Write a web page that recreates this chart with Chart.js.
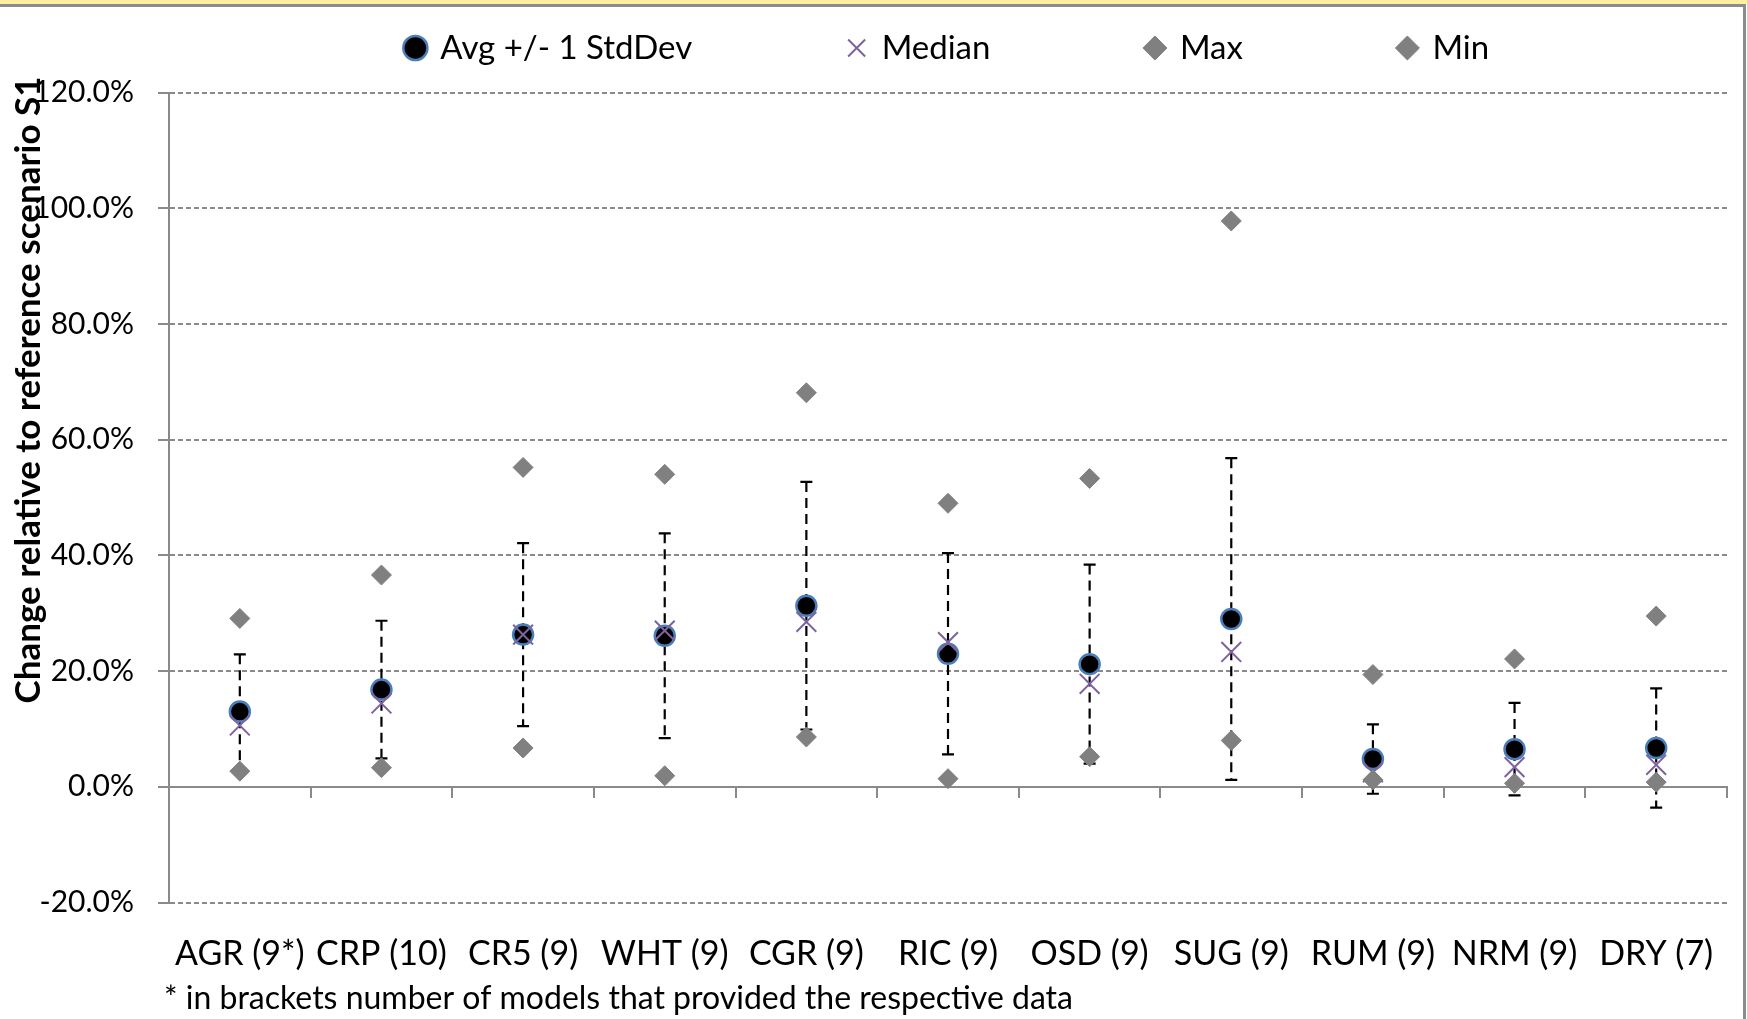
<!DOCTYPE html>
<html>
<head>
<meta charset="utf-8">
<title>Change relative to reference scenario S1</title>
<script src="https://cdn.jsdelivr.net/npm/chart.js@4.4.1/dist/chart.umd.min.js"></script>
<style>
  html, body { margin: 0; padding: 0; background: #fff; }
  #wrap { position: relative; width: 1747px; height: 1019px; overflow: hidden; background: #fff; }
  #chart { position: absolute; left: 0; top: 0; }
  .band { position: absolute; left: 0; top: 0; width: 1747px; height: 4px; background: #fcefa0; }
  .frameTop { position: absolute; left: 0; top: 4px; width: 1746px; height: 3px; background: #8c8c8c; }
  .frameRight { position: absolute; left: 1743px; top: 4px; width: 3px; height: 1015px; background: #8c8c8c; }
</style>
</head>
<body>
<div id="wrap">
  <canvas id="chart" width="1747" height="1019"></canvas>
  <div class="band"></div>
  <div class="frameTop"></div>
  <div class="frameRight"></div>
</div>
<script>
const categories = ['AGR (9*)', 'CRP (10)', 'CR5 (9)', 'WHT (9)', 'CGR (9)', 'RIC (9)',
                    'OSD (9)', 'SUG (9)', 'RUM (9)', 'NRM (9)', 'DRY (7)'];

// values in percent
const avgValues    = [13.0, 16.8, 26.3, 26.1, 31.3, 23.0, 21.2, 29.0, 4.8, 6.5, 6.7];
const stdDevValues = [ 9.9, 11.9, 15.8, 17.7, 21.4, 17.4, 17.2, 27.8, 6.0, 8.0, 10.3];
const medianValues = [10.6, 14.4, 26.3, 27.0, 28.5, 25.0, 17.8, 23.3, 2.5, 3.4, 3.8];
const maxValues    = [29.1, 36.6, 55.2, 54.0, 68.1, 49.0, 53.3, 97.8, 19.4, 22.1, 29.5];
const minValues    = [ 2.7,  3.3,  6.7,  1.9,  8.6,  1.4,  5.2,  8.0, 1.2, 0.6, 0.8];

const yTicks = [-20, 0, 20, 40, 60, 80, 100, 120];
const yTitle = 'Change relative to reference scenario S1';
const footnote = '* in brackets number of models that provided the respective data';

const FONT = 'Lato, "Liberation Sans", sans-serif';
const GRID = '#8a8a8a';

Chart.defaults.font.family = FONT;
Chart.defaults.color = '#000';

// dashed +/- 1 StdDev bars behind the markers
const errorBars = {
  id: 'errorBars',
  beforeDatasetsDraw(chart) {
    const { ctx, scales: { x, y } } = chart;
    ctx.save();
    ctx.strokeStyle = '#000';
    ctx.lineWidth = 2.2;
    avgValues.forEach((v, i) => {
      const px = x.getPixelForValue(i);
      const top = y.getPixelForValue(v + stdDevValues[i]);
      const bot = y.getPixelForValue(v - stdDevValues[i]);
      ctx.setLineDash([10, 6]);
      ctx.beginPath();
      ctx.moveTo(px, top);
      ctx.lineTo(px, bot);
      ctx.stroke();
      ctx.setLineDash([]);
      ctx.beginPath();
      ctx.moveTo(px - 6, top); ctx.lineTo(px + 6, top);
      ctx.moveTo(px - 6, bot); ctx.lineTo(px + 6, bot);
      ctx.stroke();
    });
    ctx.restore();
  }
};

// axis title sits above centre, and the footnote under the labels
const extraText = {
  id: 'extraText',
  afterDraw(chart) {
    const ctx = chart.ctx;
    ctx.save();
    ctx.fillStyle = '#000';
    ctx.font = 'bold 35px ' + FONT;
    ctx.textAlign = 'center';
    ctx.textBaseline = 'middle';
    ctx.translate(29, 390);
    ctx.rotate(-Math.PI / 2);
    ctx.fillText(yTitle, 0, 0);
    ctx.restore();

    ctx.save();
    ctx.fillStyle = '#000';
    ctx.font = '32px ' + FONT;
    ctx.textAlign = 'left';
    ctx.textBaseline = 'middle';
    ctx.fillText(footnote, 164, 999);
    ctx.restore();
  }
};

new Chart(document.getElementById('chart'), {
  type: 'line',
  data: {
    labels: categories,
    datasets: [
      {
        label: 'Avg +/- 1 StdDev',
        data: avgValues,
        showLine: false,
        pointStyle: 'circle',
        pointRadius: 10,
        pointBackgroundColor: '#000',
        pointBorderColor: '#4a7ebb',
        pointBorderWidth: 2.5,
        backgroundColor: '#000',
        borderColor: '#4a7ebb',
        order: 4
      },
      {
        label: 'Median',
        data: medianValues,
        showLine: false,
        pointStyle: 'crossRot',
        pointRadius: 14,
        pointBorderColor: '#7f63a1',
        pointBorderWidth: 2,
        borderColor: '#7f63a1',
        order: 3
      },
      {
        label: 'Max',
        data: maxValues,
        showLine: false,
        pointStyle: 'rectRot',
        pointRadius: 10,
        pointBackgroundColor: '#808080',
        pointBorderColor: '#808080',
        pointBorderWidth: 1,
        backgroundColor: '#808080',
        borderColor: '#808080',
        order: 2
      },
      {
        label: 'Min',
        data: minValues,
        showLine: false,
        pointStyle: 'rectRot',
        pointRadius: 10,
        pointBackgroundColor: '#808080',
        pointBorderColor: '#808080',
        pointBorderWidth: 1,
        backgroundColor: '#808080',
        borderColor: '#808080',
        order: 1
      }
    ]
  },
  options: {
    responsive: false,
    animation: false,
    events: [],
    layout: { padding: { top: -124.5, right: 20, bottom: 0, left: 0 } },
    plugins: {
      tooltip: { enabled: false },
      legend: {
        position: 'top',
        fullSize: false,
        reverse: true,
        labels: {
          usePointStyle: true,
          boxWidth: 17,
          boxHeight: 17,
          padding: 156,
          color: '#000',
          font: { size: 33 }
        }
      }
    },
    scales: {
      x: {
        type: 'category',
        offset: true,
        grid: { display: false, drawTicks: false },
        border: { display: false },
        ticks: { color: '#000', font: { size: 34 }, padding: 31, maxRotation: 0, autoSkip: false },
        afterFit(scale) { scale.height = 116.5; }
      },
      xTop: {
        axis: 'x',
        type: 'category',
        position: 'top',
        offset: true,
        ticks: { display: false },
        grid: { display: false, drawTicks: false },
        border: { display: false },
        afterFit(scale) { scale.height = 18; }
      },
      xZero: {
        axis: 'x',
        type: 'category',
        position: { y: 0 },
        offset: true,
        ticks: { display: false },
        grid: { offset: true, drawOnChartArea: false, tickLength: 10, color: GRID, lineWidth: 2 },
        border: { display: true, color: GRID, width: 2 }
      },
      y: {
        min: -20,
        max: 120,
        afterBuildTicks(scale) { scale.ticks = yTicks.map(v => ({ value: v })); },
        ticks: {
          callback: v => v.toFixed(1) + '%',
          color: '#000',
          font: { size: 30 },
          padding: 24
        },
        grid: { color: GRID, lineWidth: 2, tickLength: 11, tickWidth: 2, tickColor: GRID },
        border: {
          display: true,
          color: GRID,
          width: 2,
          dash: ctx => (ctx.type === 'tick' && ctx.tick.value !== 0) ? [5, 3] : []
        },
        afterFit(scale) { scale.width = 169; }
      }
    }
  },
  plugins: [errorBars, extraText]
});
</script>
</body>
</html>
